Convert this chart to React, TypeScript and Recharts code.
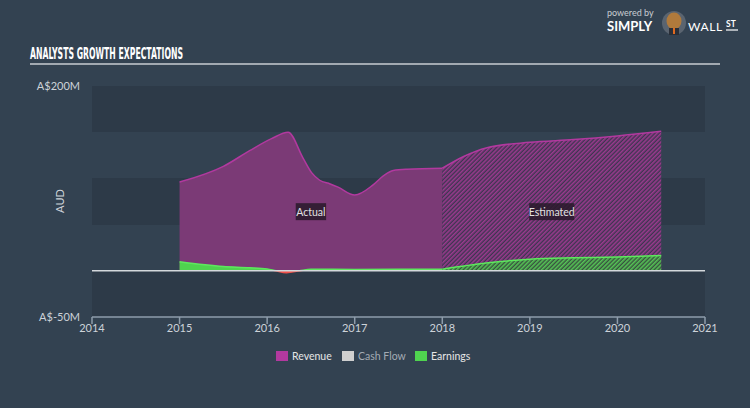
import React from 'react';
import {
  ComposedChart,
  Area,
  XAxis,
  YAxis,
  CartesianGrid,
  ReferenceLine,
  ReferenceDot,
} from 'recharts';

// ---- data ----
const xTicks = [2014, 2015, 2016, 2017, 2018, 2019, 2020, 2021];
const yTicks = [-50, 200];
const bandValues = [-50, 0, 50, 100, 150, 200];

const revenueActualYears = [2015, 2015.5, 2015.8, 2016.05, 2016.24, 2016.41, 2016.51, 2016.6, 2016.72, 2016.81, 2017.0, 2017.21, 2017.33, 2017.44, 2017.6, 2018];
const revenueActualValues = [96, 113, 130, 143, 150, 122, 106, 98, 94, 90.5, 82, 93, 103, 108.6, 110, 111];

const revenueEstYears = [2018, 2018.25, 2018.5, 2019, 2019.5, 2020, 2020.5];
const revenueEstValues = [111, 124, 133, 139, 142, 146, 151];

const earningsActualYears = [2015, 2015.5, 2015.8, 2016.0, 2016.1, 2016.22, 2016.37, 2016.5, 2017, 2017.5, 2018];
const earningsActualValues = [9.7, 4.6, 3.4, 2, 0, -2, 0, 1.6, 1.5, 1.6, 1.8];

const earningsEstYears = [2018, 2018.5, 2019, 2019.5, 2020, 2020.5];
const earningsEstValues = [1.8, 8.5, 12.5, 14, 15, 16.5];

const phaseLabels = ['Actual', 'Estimated'];
const phaseLabelYears = [2016.5, 2019.25];
const phaseLabelValue = 64;

const legendNames = ['Revenue', 'Cash Flow', 'Earnings'];

// ---- styles ----
const BG = '#334251';
const BAND = '#2d3a48';
const REV_STROKE = '#b2399f';
const REV_FILL = '#7b3a76';
const EARN_STROKE = '#5de85d';
const EARN_FILL = '#4fd34f';
const NEG = '#f0504a';
const legendColors = [REV_STROKE, '#cfcfcf', EARN_FILL];
const legendTextColors = ['#e6e6e6', '#a3abb4', '#e6e6e6'];
const FONT = 'Lato, "Open Sans", sans-serif';

function lookup(years: number[], values: number[], y: number): number | null {
  const i = years.indexOf(y);
  return i >= 0 ? values[i] : null;
}

const allYears = Array.from(
  new Set([...revenueActualYears, ...revenueEstYears, ...earningsActualYears, ...earningsEstYears])
).sort((a, b) => a - b);

const chartData = allYears.map((year) => ({
  year,
  revenueActual: lookup(revenueActualYears, revenueActualValues, year),
  revenueEst: lookup(revenueEstYears, revenueEstValues, year),
  earningsActual: lookup(earningsActualYears, earningsActualValues, year),
  earningsEst: lookup(earningsEstYears, earningsEstValues, year),
}));

const eMax = Math.max(0, ...earningsActualValues);
const eMin = Math.min(0, ...earningsActualValues);
const zeroOffset = eMax / (eMax - eMin);

const PhaseTag = (props: any) => {
  const { cx, cy, text } = props;
  if (cx == null || cy == null) return null;
  const w = text.length * 4.9 + 1;
  const h = 17;
  return (
    <g>
      <rect x={cx - w / 2} y={cy - h / 2} width={w} height={h} fill="#2a1a2c" fillOpacity={0.88} />
      <text x={cx} y={cy + 4} textAnchor="middle" fontSize={10.5} fill="#e2e2e2" fontFamily={FONT}>
        {text}
      </text>
    </g>
  );
};

export default function App() {
  return (
    <div style={{ position: 'fixed', left: 0, top: 0, width: 750, height: 408, background: BG, overflow: 'hidden' }}>
      <style>{'body{margin:0}'}</style>
      <ComposedChart
        width={750}
        height={408}
        data={chartData}
        margin={{ top: 86, right: 45, left: 12, bottom: 61 }}
      >
        <defs>
          <pattern id="revHatch" patternUnits="userSpaceOnUse" width="3" height="3" patternTransform="rotate(45)">
            <rect width="3" height="3" fill="#3d3550" />
            <rect width="1.6" height="3" fill="#9a3a8e" />
          </pattern>
          <pattern id="earnHatch" patternUnits="userSpaceOnUse" width="3" height="3" patternTransform="rotate(45)">
            <rect width="3" height="3" fill="#37503f" />
            <rect width="1.6" height="3" fill="#56c456" />
          </pattern>
          <linearGradient id="earnFill" x1="0" y1="0" x2="0" y2="1">
            <stop offset={0} stopColor={EARN_FILL} />
            <stop offset={zeroOffset} stopColor={EARN_FILL} />
            <stop offset={zeroOffset} stopColor={NEG} />
            <stop offset={1} stopColor={NEG} />
          </linearGradient>
          <linearGradient id="earnStroke" x1="0" y1="0" x2="0" y2="1">
            <stop offset={0} stopColor={EARN_STROKE} />
            <stop offset={zeroOffset} stopColor={EARN_STROKE} />
            <stop offset={zeroOffset} stopColor={NEG} />
            <stop offset={1} stopColor={NEG} />
          </linearGradient>
        </defs>
        <CartesianGrid
          vertical={false}
          horizontal={true}
          stroke="none"
          horizontalValues={bandValues}
          horizontalFill={[BAND, 'transparent']}
        />
        <XAxis
          dataKey="year"
          type="number"
          domain={[2014, 2021]}
          ticks={xTicks}
          interval={0}
          allowDataOverflow
          height={30}
          axisLine={{ stroke: '#8e9cab', strokeWidth: 1.5 }}
          tickLine={{ stroke: '#8e9cab', strokeWidth: 1.5 }}
          tickSize={7}
          tickMargin={0}
          tick={{ fill: '#cdd3d9', fontSize: 11, fontFamily: FONT }}
        />
        <YAxis
          type="number"
          domain={[-50, 200]}
          ticks={yTicks}
          allowDataOverflow
          width={80}
          axisLine={false}
          tickLine={false}
          tickSize={0}
          tickMargin={12}
          tick={{ fill: '#cdd3d9', fontSize: 11, fontFamily: FONT }}
          tickFormatter={(v: number) => `A$${v}M`}
        />
        <Area
          type="monotone"
          dataKey="revenueActual"
          stroke={REV_STROKE}
          strokeWidth={1.5}
          fill={REV_FILL}
          fillOpacity={1}
          baseValue={0}
          connectNulls
          dot={false}
          activeDot={false}
          isAnimationActive={false}
        />
        <Area
          type="monotone"
          dataKey="revenueEst"
          stroke={REV_STROKE}
          strokeWidth={1.5}
          fill="url(#revHatch)"
          fillOpacity={1}
          baseValue={0}
          connectNulls
          dot={false}
          activeDot={false}
          isAnimationActive={false}
        />
        <Area
          type="monotone"
          dataKey="earningsActual"
          stroke="url(#earnStroke)"
          strokeWidth={1.5}
          fill="url(#earnFill)"
          fillOpacity={1}
          baseValue={0}
          connectNulls
          dot={false}
          activeDot={false}
          isAnimationActive={false}
        />
        <Area
          type="monotone"
          dataKey="earningsEst"
          stroke={EARN_STROKE}
          strokeWidth={1.5}
          fill="url(#earnHatch)"
          fillOpacity={1}
          baseValue={0}
          connectNulls
          dot={false}
          activeDot={false}
          isAnimationActive={false}
        />
        <ReferenceLine y={0} stroke="#d4d8dc" strokeWidth={1.5} />
        {phaseLabels.map((t, i) => (
          <ReferenceDot
            key={t}
            x={phaseLabelYears[i]}
            y={phaseLabelValue}
            r={0}
            shape={(p: any) => <PhaseTag {...p} text={t} />}
          />
        ))}
      </ComposedChart>
      <svg
        width={750}
        height={408}
        style={{ position: 'absolute', left: 0, top: 0, pointerEvents: 'none' }}
      >
        <text
          x={30}
          y={59}
          fontSize={15}
          fontWeight="bold"
          fill="#ffffff"
          fontFamily='"DejaVu Sans Condensed", "DejaVu Sans", sans-serif'
          textLength={153}
          lengthAdjust="spacingAndGlyphs"
        >
          ANALYSTS GROWTH EXPECTATIONS
        </text>
        <line x1={30} y1={64} x2={720} y2={64} stroke="#c9cdd2" strokeWidth={1.5} />
        <text x={59} y={201} transform="rotate(-90 59 201)" textAnchor="middle" dominantBaseline="central" fontSize={11} fill="#cdd3d9" fontFamily={FONT}>
          AUD
        </text>
        {/* logo */}
        <text x={607} y={16} fontSize={9} fill="#c9cdd2" fontFamily={FONT}>powered by</text>
        <text x={607} y={31} fontSize={13} fontWeight="bold" fill="#ffffff" fontFamily={FONT}>SIMPLY</text>
        <circle cx={674} cy={23} r={12} fill="#5a6470" />
        <ellipse cx={674} cy={21} rx={7.5} ry={8.5} fill="#b07a3c" />
        <rect x={669} y={28} width={10} height={7} fill="#2a2f38" />
        <rect x={673} y={28} width={2} height={6} fill="#e06a20" />
        <text x={688} y={31} fontSize={12} letterSpacing={0.6} fill="#ffffff" fontFamily={FONT}>WALL</text>
        <text x={726} y={27} fontSize={8.5} fontWeight="bold" fill="#ffffff" fontFamily={FONT}>ST</text>
        <line x1={726} y1={30} x2={738} y2={30} stroke="#ffffff" strokeWidth={1.2} />
        {/* legend */}
        {legendNames.map((name, i) => {
          const xs = [276, 342, 415];
          return (
            <g key={name}>
              <rect x={xs[i]} y={351} width={12} height={10} fill={legendColors[i]} />
              <text x={xs[i] + 16} y={360} fontSize={10.5} fill={legendTextColors[i]} fontFamily={FONT}>
                {name}
              </text>
            </g>
          );
        })}
      </svg>
    </div>
  );
}
